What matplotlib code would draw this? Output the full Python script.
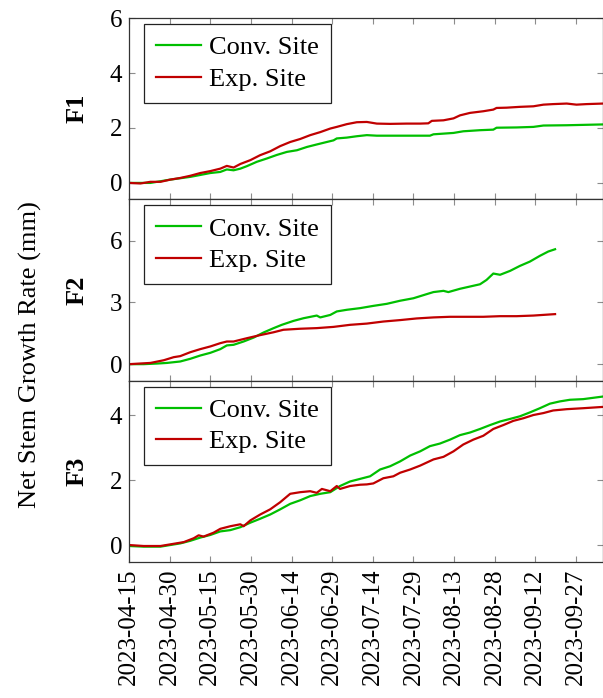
import datetime
import numpy as np
import matplotlib
matplotlib.use("Agg")
import matplotlib.pyplot as plt
import matplotlib.dates as mdates

plt.rcParams['font.family'] = ['Liberation Serif', 'DejaVu Serif']
plt.rcParams['mathtext.fontset'] = 'stix'

# day offsets from 2023-04-15 and net stem growth (mm)
f1_conv_days = [0, 7.9, 15.2, 22.6, 30.0, 33.7, 36.1, 38.6, 41.1, 43.5, 47.2, 50.9,
                54.6, 58.3, 62.0, 65.7, 69.3, 73.0, 75.5, 76.7, 80.4, 84.1, 87.8,
                91.5, 100.1, 111.1, 112.4, 119.8, 123.4, 129.6, 134.5, 135.7, 143.1,
                149.3, 153.0, 161.6, 175.0]
f1_conv = [0, 0, 0.12, 0.22, 0.36, 0.40, 0.49, 0.46, 0.52, 0.61, 0.77, 0.89,
           1.02, 1.13, 1.19, 1.31, 1.40, 1.49, 1.55, 1.62, 1.65, 1.70, 1.74,
           1.72, 1.72, 1.72, 1.77, 1.82, 1.88, 1.92, 1.94, 2.01, 2.02,
           2.04, 2.09, 2.10, 2.13]
f1_exp_days = [0, 4.2, 7.9, 11.6, 15.2, 18.9, 22.6, 26.3, 30.0, 33.7, 36.1, 38.6,
               41.1, 44.8, 48.4, 52.1, 55.8, 59.5, 63.2, 66.9, 70.6, 74.3, 76.7,
               80.4, 84.1, 87.8, 91.5, 96.4, 102.5, 107.5, 110.5, 111.8, 116.1,
               119.8, 122.2, 125.9, 130.8, 134.5, 135.7, 139.4, 144.3, 149.3,
               153.0, 156.6, 161.6, 165.2, 168.9, 175.0]
f1_exp = [0, -0.02, 0.04, 0.04, 0.12, 0.18, 0.26, 0.36, 0.43, 0.52, 0.62, 0.56,
          0.69, 0.83, 1.01, 1.15, 1.34, 1.49, 1.60, 1.74, 1.85, 1.98, 2.04,
          2.14, 2.21, 2.22, 2.16, 2.15, 2.16, 2.16, 2.17, 2.26, 2.28,
          2.35, 2.46, 2.55, 2.61, 2.67, 2.73, 2.74, 2.77, 2.79,
          2.85, 2.87, 2.89, 2.85, 2.87, 2.89]

f2_conv_days = [0, 5.4, 10.3, 14.0, 18.9, 22.6, 26.3, 30.0, 33.7, 36.1, 38.6, 42.3,
                46.0, 49.7, 53.4, 56.4, 60.7, 64.4, 69.3, 70.6, 74.3, 76.7, 80.4,
                85.3, 90.2, 95.2, 100.1, 105.0, 109.9, 112.4, 116.1, 117.9, 122.2,
                125.9, 129.6, 132.0, 134.5, 137.0, 140.7, 144.3, 148.0, 151.7,
                154.8, 157.3]
f2_conv = [0, 0, 0.03, 0.06, 0.13, 0.26, 0.42, 0.55, 0.73, 0.91, 0.94, 1.10,
           1.29, 1.54, 1.75, 1.91, 2.10, 2.23, 2.36, 2.27, 2.39, 2.56, 2.64,
           2.72, 2.83, 2.93, 3.08, 3.20, 3.40, 3.50, 3.56, 3.50, 3.66,
           3.77, 3.88, 4.09, 4.40, 4.34, 4.53, 4.77, 4.98, 5.26,
           5.47, 5.58]
f2_exp_days = [0, 7.9, 12.8, 16.5, 18.9, 22.6, 26.3, 30.0, 33.7, 36.1, 38.6, 43.5,
               48.4, 53.4, 57.0, 63.2, 69.3, 75.5, 81.6, 87.8, 93.9, 100.1, 106.2,
               112.4, 118.5, 124.7, 130.8, 137.0, 143.1, 149.3, 157.3]
f2_exp = [0, 0.06, 0.19, 0.34, 0.39, 0.58, 0.73, 0.86, 1.02, 1.10, 1.10, 1.26,
          1.41, 1.55, 1.67, 1.72, 1.75, 1.81, 1.91, 1.97, 2.07, 2.14, 2.22,
          2.27, 2.30, 2.30, 2.30, 2.33, 2.33, 2.36, 2.43]

f3_conv_days = [0, 5.4, 11.6, 15.2, 18.9, 22.6, 26.3, 30.0, 33.7, 37.4, 41.1, 44.8,
                48.4, 52.1, 55.8, 59.5, 63.2, 66.9, 70.6, 74.3, 77.9, 81.6, 85.3,
                89.0, 92.7, 96.4, 100.1, 103.8, 107.5, 111.1, 114.8, 118.5, 122.2,
                125.9, 129.6, 133.3, 137.0, 140.7, 144.3, 148.0, 151.7, 155.4,
                159.1, 162.8, 167.7, 175.0]
f3_conv = [-0.03, -0.05, -0.05, 0, 0.05, 0.13, 0.23, 0.31, 0.42, 0.46, 0.55, 0.69,
           0.81, 0.94, 1.10, 1.27, 1.38, 1.51, 1.58, 1.63, 1.82, 1.96, 2.04,
           2.12, 2.33, 2.43, 2.58, 2.76, 2.89, 3.05, 3.13, 3.25, 3.39,
           3.47, 3.58, 3.70, 3.81, 3.89, 3.97, 4.09, 4.22, 4.36,
           4.43, 4.48, 4.50, 4.58]
f3_exp_days = [0, 5.4, 11.6, 15.2, 20.2, 23.9, 25.7, 27.5, 31.2, 33.7, 37.4, 41.1,
               42.3, 44.8, 48.4, 52.1, 55.8, 59.5, 63.2, 66.9, 69.3, 71.2, 74.3,
               76.7, 77.9, 81.6, 85.3, 87.8, 90.2, 93.9, 97.6, 100.1, 103.8,
               107.5, 112.4, 116.1, 119.8, 123.4, 127.1, 130.8, 134.5, 138.2,
               141.9, 145.6, 149.3, 153.0, 156.6, 161.6, 167.7, 175.0]
f3_exp = [0, -0.03, -0.03, 0.02, 0.09, 0.21, 0.30, 0.26, 0.38, 0.50, 0.58, 0.64,
          0.58, 0.76, 0.94, 1.10, 1.32, 1.58, 1.63, 1.66, 1.61, 1.73, 1.66,
          1.82, 1.73, 1.82, 1.86, 1.87, 1.90, 2.06, 2.12, 2.23, 2.33,
          2.45, 2.64, 2.72, 2.89, 3.10, 3.25, 3.37, 3.58, 3.70,
          3.83, 3.91, 4.01, 4.07, 4.15, 4.19, 4.22, 4.26]

panel_names = ['F1', 'F2', 'F3']
tick_dates = ['2023-04-15', '2023-04-30', '2023-05-15', '2023-05-30', '2023-06-14',
              '2023-06-29', '2023-07-14', '2023-07-29', '2023-08-13', '2023-08-28',
              '2023-09-12', '2023-09-27']

start = mdates.date2num(datetime.date(2023, 4, 15))
green = '#00bf00'
red = '#c00000'

series = [
    (f1_conv_days, f1_conv, f1_exp_days, f1_exp, (-0.6, 6.0), [0, 2, 4, 6]),
    (f2_conv_days, f2_conv, f2_exp_days, f2_exp, (-0.8, 8.0), [0, 3, 6]),
    (f3_conv_days, f3_conv, f3_exp_days, f3_exp, (-0.52, 5.07), [0, 2, 4]),
]

fig, axes = plt.subplots(3, 1, sharex=True, figsize=(6.03, 6.98), dpi=100)
fig.subplots_adjust(left=0.214, right=1.0, top=0.974, bottom=0.195, hspace=0)

for ax, name, (cd, cv, ed, ev, ylim, yt) in zip(axes, panel_names, series):
    ax.plot(start + np.array(cd), cv, color=green, lw=1.6, label='Conv. Site')
    ax.plot(start + np.array(ed), ev, color=red, lw=1.6, label='Exp. Site')
    ax.set_ylim(*ylim)
    ax.set_yticks(yt)
    ax.set_xlim(start, start + 175)
    ax.tick_params(direction='in', top=True, right=True, length=4.5,
                   color='#8c8c8c', labelsize=18, width=0.8, pad=5)
    for s in ax.spines.values():
        s.set_color('#333333')
        s.set_linewidth(0.9)
    leg = ax.legend(loc='upper left', fontsize=19, fancybox=False, framealpha=1,
                    edgecolor='#222222', handlelength=1.7, borderpad=0.45,
                    labelspacing=0.3, handletextpad=0.3, borderaxespad=0,
                    bbox_to_anchor=(0.032, 0.967))
    leg.get_frame().set_linewidth(0.9)
    ax.text(-0.11, 0.5, name, transform=ax.transAxes, rotation=90,
            ha='center', va='center', fontsize=19, fontweight='bold')

ticks = [mdates.date2num(datetime.date.fromisoformat(d)) for d in tick_dates]
axes[-1].set_xticks(ticks)
axes[-1].set_xticklabels(tick_dates, rotation=90)

fig.text(30 / 603, 1 - 355 / 698, 'Net Stem Growth Rate (mm)', rotation=90,
         ha='center', va='center', fontsize=19)

fig.savefig('out.png', dpi=100)
